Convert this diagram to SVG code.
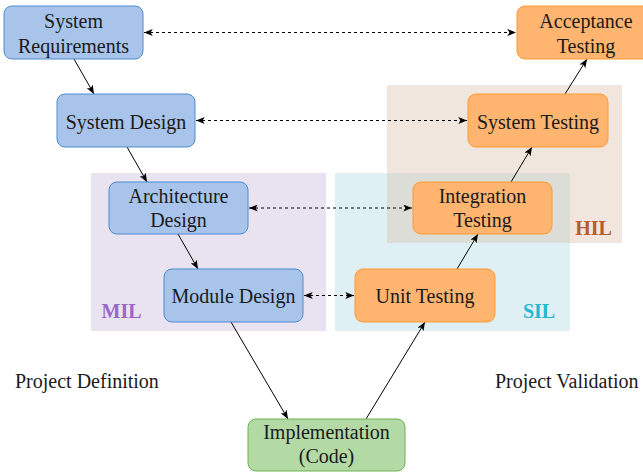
<svg xmlns="http://www.w3.org/2000/svg" width="643" height="472" viewBox="0 0 643 472">
<defs>
<marker id="ah" viewBox="0 0 10 8" refX="10" refY="4" markerWidth="9" markerHeight="7" markerUnits="userSpaceOnUse" orient="auto-start-reverse">
<path d="M0,0 L10,4 L0,8 L2.5,4 z" fill="#000"/>
</marker>
<style>
text{font-family:"Liberation Serif","Times New Roman",serif;font-size:20px;fill:#1a1a1a;text-anchor:middle}
.blue{fill:#A9C4EB;stroke:#4F8BC9;stroke-width:1}
.orange{fill:#FFB570;stroke:#FF9A33;stroke-width:1}
.green{fill:#B3D9A4;stroke:#6DB055;stroke-width:1}
.lbl{font-weight:bold}
.flow{stroke:#000;stroke-width:1;fill:none;marker-end:url(#ah)}
.link{stroke:#000;stroke-width:1;fill:none;stroke-dasharray:3 3;marker-start:url(#ah);marker-end:url(#ah)}
.side{text-anchor:start}
</style>
</defs>
<rect width="643" height="472" fill="#fff"/>
<g id="regions">
<g id="mil"><rect x="91" y="173" width="235" height="158" fill="#E9E3F1"/><text class="lbl" x="121.5" y="318" fill="#9A67C4" style="fill:#9A67C4">MIL</text></g>
<g id="sil"><rect x="335" y="173" width="235" height="158" fill="#DFF0F4"/><text class="lbl" x="539" y="318" style="fill:#23B7D1">SIL</text></g>
<g id="hil"><rect x="387" y="85" width="235" height="158" fill="#D7BCA4" fill-opacity="0.375"/><text class="lbl" x="593.5" y="235" style="fill:#B65B2C">HIL</text></g>
</g>
<g id="connectors">
<line class="flow" x1="74" y1="59" x2="94" y2="94"/>
<line class="flow" x1="127" y1="147" x2="147" y2="182"/>
<line class="flow" x1="178" y1="234" x2="198" y2="269"/>
<line class="flow" x1="231" y1="322" x2="288" y2="419"/>
<line class="flow" x1="366" y1="419" x2="425" y2="322"/>
<line class="flow" x1="457" y1="269" x2="478" y2="234"/>
<line class="flow" x1="511" y1="182" x2="532" y2="147"/>
<line class="flow" x1="565" y1="94" x2="587" y2="59"/>
<line class="link" x1="144" y1="32.5" x2="516" y2="32.5"/>
<line class="link" x1="196" y1="120.5" x2="467" y2="120.5"/>
<line class="link" x1="249" y1="208" x2="412" y2="208"/>
<line class="link" x1="304" y1="295.5" x2="354" y2="295.5"/>
</g>
<g id="sys-req"><rect class="blue" x="4" y="6" width="139" height="53" rx="8"/><text x="73.5" y="28">System</text><text x="73.5" y="52.5">Requirements</text></g>
<g id="sys-design"><rect class="blue" x="57" y="94" width="138" height="53" rx="8"/><text x="126" y="128.5">System Design</text></g>
<g id="arch-design"><rect class="blue" x="109" y="182" width="139" height="52" rx="8"/><text x="178.5" y="203">Architecture</text><text x="178.5" y="227">Design</text></g>
<g id="module-design"><rect class="blue" x="164" y="269" width="139" height="53" rx="8"/><text x="233.5" y="303">Module Design</text></g>
<g id="implementation"><rect class="green" x="248" y="419" width="157" height="52" rx="8"/><text x="326.5" y="439">Implementation</text><text x="326.5" y="463">(Code)</text></g>
<g id="unit-testing"><rect class="orange" x="355" y="269" width="140" height="53" rx="8"/><text x="425" y="303">Unit Testing</text></g>
<g id="integration-testing"><rect class="orange" x="413" y="182" width="139" height="52" rx="8"/><text x="482.5" y="203">Integration</text><text x="482.5" y="227">Testing</text></g>
<g id="system-testing"><rect class="orange" x="468" y="94" width="140" height="53" rx="8"/><text x="538" y="128.5">System Testing</text></g>
<g id="acceptance-testing"><rect class="orange" x="517" y="6" width="140" height="53" rx="8"/><text x="586" y="28">Acceptance</text><text x="586" y="52.5">Testing</text></g>
<g id="side-labels"><text class="side" x="15" y="388">Project Definition</text><text class="side" x="495" y="388">Project Validation</text></g>
</svg>
